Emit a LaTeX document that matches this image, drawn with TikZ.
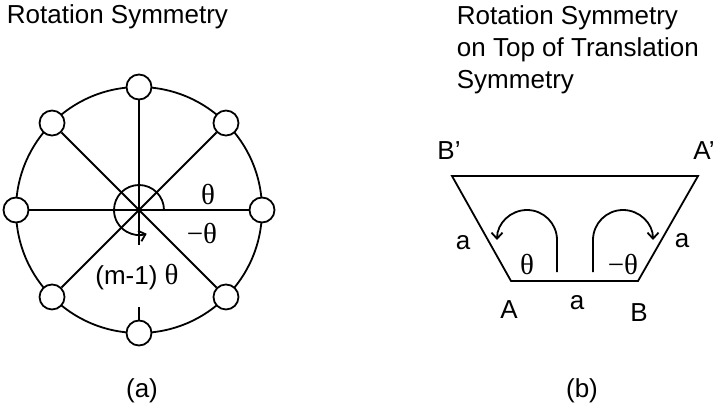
\documentclass[tikz,border=0pt]{standalone}
\usepackage{fontspec}
\setmainfont{Liberation Sans}
\newfontfamily\grk{Liberation Serif}
\usetikzlibrary{arrows.meta, calc}

\begin{document}
\begin{tikzpicture}[x=1pt, y=1pt, >={Straight Barb[length=6pt, width=11pt]}, line width=1.8pt,
    lbl/.style={font=\fontsize{26}{32}\selectfont, inner sep=0pt},
    gk/.style={font=\fontsize{29}{32}\grk, inner sep=0pt},
    ring/.style={circle, draw, fill=white, minimum size=25pt, inner sep=0pt}]
    \useasboundingbox (0,0) rectangle (722,413);
    % (a) rotation symmetry
    \node[lbl, anchor=base west] (titleA) at (6,389) {Rotation Symmetry};
    \coordinate (O) at (139,203);
    \draw (O) circle (123);
    \foreach \k in {0,...,7}
        \node[ring] (s\k) at ($(O)+(\k*45:123)$) {};
    \draw (s4) -- (s0);
    \draw (s1) -- (s5);
    \draw (s3) -- (s7);
    \coordinate (vEnd) at (139,168);
    \coordinate (stubTop) at (139,106);
    \draw (s2) -- (vEnd);
    \draw (stubTop) -- (s6);
    \draw[->] ($(O)+(25,0)$) arc (0:288:25);
    \node[gk] (thA) at (208,218) {θ};
    \node[gk] (mthA) at (202,179) {−θ};
    \node[lbl] (mth) at (137,136) {(m-1) {\fontsize{29}{32}\grk θ}};
    \node[lbl] (capA) at (142,22) {(a)};
    % (b) rotation on top of translation
    \node[lbl, anchor=north west, align=left] (titleB) at (456,408)
        {Rotation Symmetry\\on Top of Translation\\Symmetry};
    \coordinate (Bp) at (452,237);
    \coordinate (Ap) at (698,237);
    \coordinate (B) at (638,132);
    \coordinate (A) at (511,132);
    \draw (Bp) -- (Ap) -- (B) -- (A) -- cycle;
    \node[lbl] (labBp) at (449,262) {B’};
    \node[lbl] (labAp) at (704,262) {A’};
    \node[lbl] (labA) at (509,103) {A};
    \node[lbl] (labB) at (639,100) {B};
    \node[lbl] (sideL) at (463,170) {a};
    \node[lbl] (sideR) at (682,172) {a};
    \node[lbl] (sideM) at (577,110) {a};
    \node[gk] (thB) at (527,148) {θ};
    \node[gk] (mthB) at (623,148) {−θ};
    \draw[->] (557,141) -- (557,173) arc (0:180:30);
    \draw[->] (593,141) -- (593,173) arc (180:0:30);
    \node[lbl] (capB) at (582,22) {(b)};
\end{tikzpicture}
\end{document}
